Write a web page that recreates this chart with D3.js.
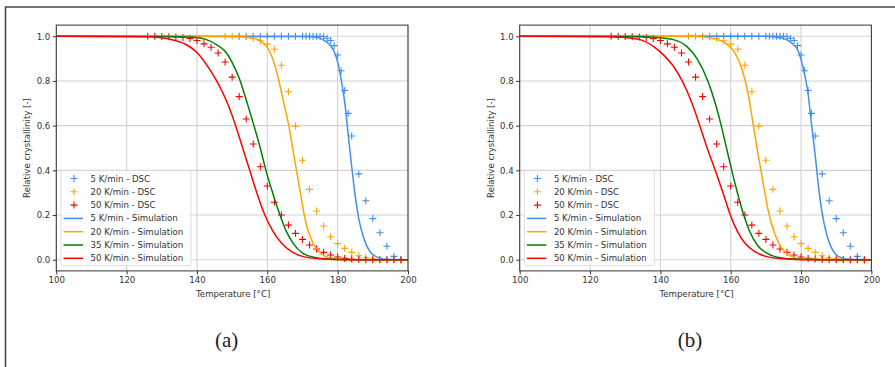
<!DOCTYPE html>
<html>
<head>
<meta charset="utf-8">
<script src="https://cdn.jsdelivr.net/npm/d3@7"></script>
<style>
  body { margin: 0; background: #fff; }
  svg { display: block; font-family: "DejaVu Sans", sans-serif; }
</style>
</head>
<body>
<main></main>
<script>
// DSC measurements (same in both panels)
const blueDscT = [152,154,156,158,160,162,164,166,168,170,171,172,173,174,175,176,177,178,179,180,181,182,183,184,186,188,190,192,194,196,198];
const blueDscY = [1,1,1,1,1,1,1,1,1,1,1,1,1,1,1,0.998,0.991,0.981,0.958,0.916,0.846,0.757,0.655,0.554,0.384,0.264,0.184,0.121,0.06,0.015,0.0];

const orangeDscT = [148,150,152,154,156,158,160,162,164,166,168,170,172,174,176,178,180,182,184,186,188,190,192,194,196,198];
const orangeDscY = [1,1,1,0.998,0.991,0.98,0.965,0.942,0.87,0.752,0.598,0.445,0.315,0.218,0.151,0.103,0.072,0.051,0.033,0.018,0.009,0.004,0.001,0,0,0];

const redDscT = [126,128,130,132,134,136,138,140,142,144,146,148,150,152,154,156,158,160,162,164,166,168,170,172,174,176,178,180,182,184,186,188,190,192,194,196,198];
const redDscY = [1,1,0.999,0.998,0.997,0.995,0.99,0.981,0.966,0.951,0.925,0.885,0.817,0.73,0.63,0.518,0.416,0.33,0.257,0.2,0.155,0.118,0.091,0.066,0.048,0.033,0.021,0.012,0.006,0.003,0.001,0,0,0,0,0,0];

// simulation curves, panel (a)
const simA_5T  = [100,170,174,176,177.8,179.2,180.2,181.1,182.1,183,184,184.9,185.9,187.3,189.2,191.1,193,200];
const simA_5Y  = [1,0.999,0.996,0.983,0.961,0.924,0.872,0.797,0.693,0.56,0.416,0.297,0.192,0.103,0.036,0.013,0.003,0];
const simA_20T = [100,150,155,158,160,161.5,163.3,164.7,166.1,167.2,168.3,169.4,170.5,171.8,173,174.5,176.5,179,185,200];
const simA_20Y = [1,0.999,0.995,0.98,0.95,0.9,0.8,0.7,0.6,0.5,0.4,0.3,0.2,0.12,0.075,0.04,0.015,0.004,0,0];
const simA_35T = [100,130,139,142.7,145.6,148.4,150.3,152.3,154.3,156.2,158,159.6,161.5,163.6,165.3,167.5,170,173.5,177,185,200];
const simA_35Y = [1,0.999,0.996,0.985,0.962,0.925,0.873,0.8,0.7,0.6,0.5,0.4,0.3,0.2,0.13,0.07,0.03,0.01,0.003,0,0];
const simA_50T = [100,125,130,134,137,140,142.7,145.6,148.4,151,153,155,157,159.3,161.5,164,167,170,175,182,200];
const simA_50Y = [1,0.998,0.993,0.98,0.962,0.927,0.873,0.8,0.71,0.6,0.5,0.4,0.3,0.2,0.13,0.075,0.035,0.015,0.004,0,0];

// simulation curves, panel (b)
const simB_5T  = [100,169.7,174.5,177.3,179.2,180.6,181.9,183,184,184.9,185.9,187.3,188.7,190.6,193,200];
const simB_5Y  = [1,1,0.992,0.97,0.933,0.858,0.754,0.604,0.47,0.336,0.217,0.112,0.052,0.015,0.003,0];
const simB_20T = [100,150,155.5,158.4,161.2,163.1,165,166.4,167.8,169.3,170.7,172.6,174.5,177.3,180,200];
const simB_20Y = [1,0.999,0.988,0.97,0.925,0.858,0.739,0.604,0.47,0.336,0.217,0.112,0.052,0.015,0.003,0];
const simB_35T = [100,135,138,143.7,147.5,150.4,153.5,155.6,157.3,158.8,160.3,161.9,163.7,165.3,167.6,170.5,174,179,186,200];
const simB_35Y = [1,0.999,0.996,0.985,0.955,0.9,0.8,0.7,0.6,0.5,0.4,0.3,0.2,0.13,0.065,0.027,0.009,0.002,0,0];
const simB_50T = [100,125,128.5,134.2,138,140.8,143.7,146.2,149,151.2,153.3,155.6,157.8,159.9,161.8,164,167,170,175,182,200];
const simB_50Y = [1,0.998,0.996,0.985,0.955,0.918,0.866,0.8,0.7,0.6,0.5,0.4,0.3,0.2,0.13,0.075,0.035,0.015,0.004,0,0];

const xTicks = [100,120,140,160,180,200];
const yTicks = [0,0.2,0.4,0.6,0.8,1.0];

const blue = "#3f8ff0", orange = "#ffa500", green = "#008000", red = "#ff0000";

const dsc = [
  {label: "5 K/min - DSC", color: blue, T: blueDscT, Y: blueDscY},
  {label: "20 K/min - DSC", color: orange, T: orangeDscT, Y: orangeDscY},
  {label: "50 K/min - DSC", color: red, T: redDscT, Y: redDscY}
];

const panels = [
  {left: 56.3, caption: "(a)", sims: [
    {label: "5 K/min - Simulation", color: blue, T: simA_5T, Y: simA_5Y},
    {label: "20 K/min - Simulation", color: orange, T: simA_20T, Y: simA_20Y},
    {label: "35 K/min - Simulation", color: green, T: simA_35T, Y: simA_35Y},
    {label: "50 K/min - Simulation", color: red, T: simA_50T, Y: simA_50Y}
  ]},
  {left: 519.7, caption: "(b)", sims: [
    {label: "5 K/min - Simulation", color: blue, T: simB_5T, Y: simB_5Y},
    {label: "20 K/min - Simulation", color: orange, T: simB_20T, Y: simB_20Y},
    {label: "35 K/min - Simulation", color: green, T: simB_35T, Y: simB_35Y},
    {label: "50 K/min - Simulation", color: red, T: simB_50T, Y: simB_50Y}
  ]}
];

const width = 895, height = 367;
const plotW = 351.7, plotTop = 25.1, plotBottom = 270.9;

const svg = d3.select("main").append("svg")
  .attr("width", width)
  .attr("height", height);

// outer frame of the figure
svg.append("path")
  .attr("d", "M5.5,367V7H895")
  .attr("fill", "none")
  .attr("stroke", "#4a4a4a")
  .attr("stroke-width", 1.6);

const plus = "M-3.5,0H3.5M0,-3.5V3.5";

panels.forEach((p, i) => {
  const x = d3.scaleLinear().domain([100, 200]).range([p.left, p.left + plotW]);
  const y = d3.scaleLinear().domain([-0.05, 1.05]).range([plotBottom, plotTop]);
  const g = svg.append("g");

  const clipId = "clip" + i;
  g.append("clipPath").attr("id", clipId)
    .append("rect")
    .attr("x", p.left).attr("y", plotTop)
    .attr("width", plotW).attr("height", plotBottom - plotTop);

  // grid
  g.append("g").selectAll("line").data(xTicks).join("line")
    .attr("x1", d => x(d)).attr("x2", d => x(d))
    .attr("y1", plotTop).attr("y2", plotBottom)
    .attr("stroke", "#d2d2d2").attr("stroke-width", 1.1);
  g.append("g").selectAll("line").data(yTicks).join("line")
    .attr("x1", p.left).attr("x2", p.left + plotW)
    .attr("y1", d => y(d)).attr("y2", d => y(d))
    .attr("stroke", "#d2d2d2").attr("stroke-width", 1.1);

  const plotArea = g.append("g").attr("clip-path", `url(#${clipId})`);

  // DSC points (drawn first, curves go on top)
  dsc.forEach(s => {
    plotArea.append("g").selectAll("path")
      .data(d3.zip(s.T, s.Y))
      .join("path")
      .attr("transform", d => `translate(${x(d[0])},${y(d[1])})`)
      .attr("d", plus)
      .attr("stroke", s.color)
      .attr("stroke-width", 1.1);
  });

  // simulation curves
  const line = d3.line()
    .x(d => x(d[0]))
    .y(d => y(d[1]))
    .curve(d3.curveMonotoneX);
  p.sims.forEach(s => {
    plotArea.append("path")
      .datum(d3.zip(s.T, s.Y))
      .attr("d", line)
      .attr("fill", "none")
      .attr("stroke", s.color)
      .attr("stroke-width", 1.5);
  });

  // axes
  const xAxis = g.append("g")
    .attr("transform", `translate(0,${plotBottom})`)
    .call(d3.axisBottom(x).tickValues(xTicks).tickSize(3.5).tickPadding(3).tickSizeOuter(0));
  const yAxis = g.append("g")
    .attr("transform", `translate(${p.left},0)`)
    .call(d3.axisLeft(y).tickValues(yTicks).tickFormat(d3.format(".1f")).tickSize(3.5).tickPadding(2.5).tickSizeOuter(0));
  [xAxis, yAxis].forEach(a => {
    a.select(".domain").remove();
    a.selectAll("line").attr("stroke", "#333");
    a.selectAll("text")
      .attr("fill", "#333")
      .style("font-size", "8.6px")
      .style("font-family", "DejaVu Sans, sans-serif");
  });

  // spines
  g.append("rect")
    .attr("x", p.left).attr("y", plotTop)
    .attr("width", plotW).attr("height", plotBottom - plotTop)
    .attr("fill", "none")
    .attr("stroke", "#333")
    .attr("stroke-width", 1);

  // axis titles
  g.append("text")
    .attr("x", p.left + plotW / 2 + 1)
    .attr("y", 296.5)
    .attr("text-anchor", "middle")
    .attr("fill", "#333")
    .style("font-size", "8.6px")
    .text("Temperature [°C]");
  g.append("text")
    .attr("transform", `translate(${p.left - 26},148) rotate(-90)`)
    .attr("text-anchor", "middle")
    .attr("fill", "#333")
    .style("font-size", "8.6px")
    .text("Relative crystallinity [-]");

  // legend
  const lx = p.left + 4.7, ly = 170.5;
  const legend = g.append("g");
  legend.append("rect")
    .attr("x", lx).attr("y", ly)
    .attr("width", 130).attr("height", 95)
    .attr("rx", 2)
    .attr("fill", "#fff").attr("fill-opacity", 0.8)
    .attr("stroke", "#d6d6d6").attr("stroke-width", 0.8);
  const items = dsc.map(d => ({label: d.label, color: d.color, marker: true}))
    .concat(p.sims.map(d => ({label: d.label, color: d.color, marker: false})));
  items.forEach((it, k) => {
    const yy = ly + 8 + k * 13.3;
    if (it.marker) {
      legend.append("path")
        .attr("transform", `translate(${lx + 13},${yy})`)
        .attr("d", plus)
        .attr("stroke", it.color)
        .attr("stroke-width", 1.1);
    } else {
      legend.append("line")
        .attr("x1", lx + 2.5).attr("x2", lx + 22)
        .attr("y1", yy).attr("y2", yy)
        .attr("stroke", it.color)
        .attr("stroke-width", 1.5);
    }
    legend.append("text")
      .attr("x", lx + 29.5)
      .attr("y", yy)
      .attr("dy", "0.35em")
      .attr("fill", "#333")
      .style("font-size", "8.6px")
      .text(it.label);
  });

  // caption
  svg.append("text")
    .attr("x", p.left + plotW / 2 - 5.5)
    .attr("y", 347)
    .attr("text-anchor", "middle")
    .attr("fill", "#222")
    .style("font-family", "Liberation Serif, serif")
    .style("font-size", "21px")
    .text(p.caption);
});
</script>
</body>
</html>
